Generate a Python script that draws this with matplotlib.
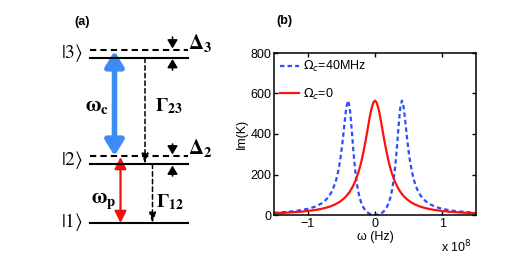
import matplotlib
matplotlib.use('Agg')
import matplotlib.pyplot as plt
from matplotlib.patches import FancyArrowPatch

plt.rcParams['font.family'] = ['Liberation Sans', 'DejaVu Sans']
plt.rcParams['mathtext.fontset'] = 'dejavusans'

# frequency detuning in units of 1e8 Hz
omega = [-1.5, -1.4, -1.3, -1.2, -1.1, -1.0, -0.9, -0.8, -0.75, -0.725, -0.7,
         -0.675, -0.65, -0.625, -0.6, -0.575, -0.55, -0.525, -0.5, -0.475,
         -0.45, -0.425, -0.4, -0.375, -0.35, -0.325, -0.3, -0.275, -0.25,
         -0.225, -0.2, -0.175, -0.15, -0.125, -0.1, -0.075, -0.05, -0.025,
         0.0, 0.025, 0.05, 0.075, 0.1, 0.125, 0.15, 0.175, 0.2, 0.225, 0.25,
         0.275, 0.3, 0.325, 0.35, 0.375, 0.4, 0.425, 0.45, 0.475, 0.5, 0.525,
         0.55, 0.575, 0.6, 0.625, 0.65, 0.675, 0.7, 0.725, 0.75, 0.8, 0.9,
         1.0, 1.1, 1.2, 1.3, 1.4, 1.5]
im_k_off = [9, 10, 12, 14, 16, 20, 24, 30, 34, 36, 39, 41, 44, 48, 51, 56, 60,
            65, 71, 78, 85, 94, 104, 115, 129, 144, 162, 183, 207, 235, 268,
            306, 348, 394, 442, 489, 528, 555, 565, 555, 528, 489, 442, 394,
            348, 306, 268, 235, 207, 183, 162, 144, 129, 115, 104, 94, 85, 78,
            71, 65, 60, 56, 51, 48, 44, 41, 39, 36, 34, 30, 24, 20, 16, 14, 12,
            10, 9]
im_k_on = [11, 13, 16, 19, 24, 30, 40, 56, 69, 77, 86, 97, 111, 128, 150, 176,
           211, 255, 312, 382, 462, 534, 565, 530, 439, 332, 239, 168, 118, 82,
           56, 39, 26, 16, 10, 5, 2, 1, 0, 1, 2, 5, 10, 16, 26, 39, 56, 82, 118,
           168, 239, 332, 439, 530, 565, 534, 462, 382, 312, 255, 211, 176, 150,
           128, 111, 97, 86, 77, 69, 56, 40, 30, 24, 19, 16, 13, 11]
labels = [r'$\Omega_c$=40MHz', r'$\Omega_c$=0']
xticks = [-1, 0, 1]
yticks = [0, 200, 400, 600, 800]

fig = plt.figure(figsize=(5.14, 2.57), dpi=100)

# ---- (a) level diagram, drawn in pixel coordinates ----
ax0 = fig.add_axes([0, 0, 1, 1])
ax0.set_xlim(0, 514)
ax0.set_ylim(257, 0)
ax0.axis('off')

x0, x1 = 90, 188
for y in (50, 156):
    ax0.plot([x0, x1], [y, y], color='k', lw=1.5, ls=(0, (3, 2)))
for y in (57.5, 164, 223):
    ax0.plot([x0, x1], [y, y], color='k', lw=1.5)

serif = dict(math_fontfamily='stix', ha='center', va='center')
ax0.text(72, 53, r'$|3\rangle$', fontsize=14, **serif)
ax0.text(72, 160, r'$|2\rangle$', fontsize=14, **serif)
ax0.text(72, 222, r'$|1\rangle$', fontsize=14, **serif)


def arrow(p0, p1, style, color, lw, ls='-', ms=10):
    ax0.add_patch(FancyArrowPatch(p0, p1, arrowstyle=style, color=color,
                                  lw=lw, ls=ls, mutation_scale=ms,
                                  shrinkA=0, shrinkB=0))


arrow((114.5, 51), (114.5, 156), '<|-|>,head_length=0.9,head_width=0.55',
      '#3d8bf5', 4)
arrow((120.5, 157), (120.5, 223), '<|-|>,head_length=0.7,head_width=0.35',
      '#ee1111', 1.6)
arrow((145, 58), (145, 164), '-|>,head_length=0.6,head_width=0.2', 'k', 1.1,
      ls=(0, (3, 2)))
arrow((152.5, 164), (152.5, 223), '-|>,head_length=0.6,head_width=0.2', 'k',
      1.1, ls=(0, (3, 2)))
for y0, y1 in ((37, 48.5), (70, 59), (144, 154.5), (176, 165.5)):
    arrow((172.5, y0), (172.5, y1), '-|>,head_length=0.5,head_width=0.3', 'k',
          1.2)

ax0.text(97, 107, r'$\mathbf{\omega_c}$', fontsize=15, **serif)
ax0.text(104, 202, r'$\mathbf{\omega_p}$', fontsize=15, **serif)
ax0.text(169, 106, r'$\mathbf{\Gamma_{23}}$', fontsize=14, **serif)
ax0.text(170, 202, r'$\mathbf{\Gamma_{12}}$', fontsize=14, **serif)
ax0.text(200, 43, r'$\mathbf{\Delta_3}$', fontsize=15, **serif)
ax0.text(200, 148, r'$\mathbf{\Delta_2}$', fontsize=15, **serif)
ax0.text(82, 22, '(a)', fontsize=9, fontweight='bold', ha='center',
         va='center')
ax0.text(284, 21, '(b)', fontsize=9, fontweight='bold', ha='center',
         va='center')

# ---- (b) absorption spectrum ----
ax = fig.add_axes([274 / 514, 42 / 257, 202 / 514, 162 / 257])
ax.plot(omega, im_k_on, color='#2b4cff', lw=1.6, ls=(0, (2, 1.4)),
        label=labels[0])
ax.plot(omega, im_k_off, color='#ff1010', lw=1.6, label=labels[1])
ax.set_xlim(-1.5, 1.5)
ax.set_ylim(0, 800)
ax.set_xticks(xticks)
ax.set_xticklabels(['\u22121', '0', '1'])
ax.set_yticks(yticks)
ax.tick_params(direction='in', length=3, width=1, labelsize=9, top=True,
               right=True, pad=2)
for sp in ax.spines.values():
    sp.set_linewidth(1.1)
ax.set_xlabel('\u03c9 (Hz)', fontsize=9, labelpad=1)
ax.set_ylabel('Im(K)', fontsize=9, labelpad=2)
ax.text(1.43, -160, r'x 10$^8$', fontsize=9, ha='right', va='center')
ax.legend(loc='upper left', frameon=False, fontsize=9, handlelength=1.5,
          handletextpad=0.3, labelspacing=1.0, borderaxespad=0.25,
          borderpad=0.25)

fig.savefig('out.png', dpi=100)
